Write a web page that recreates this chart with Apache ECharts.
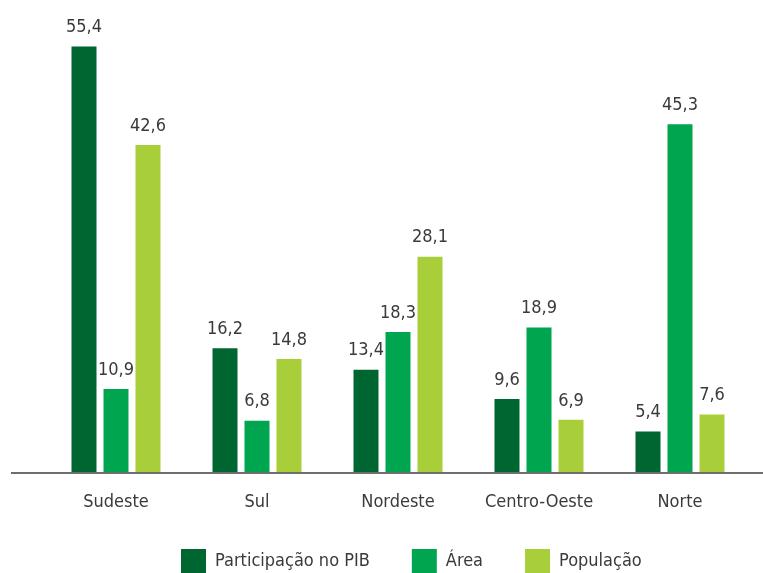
<!DOCTYPE html>
<html>
<head>
<meta charset="utf-8">
<script src="https://cdn.jsdelivr.net/npm/echarts@6/dist/echarts.min.js"></script>
<style>
  html, body { margin: 0; padding: 0; background: #ffffff; }
  #chart { width: 763px; height: 573px; }
</style>
</head>
<body>
<div id="chart"></div>
<script>
// Regional shares (%) by Brazilian macro-region
const regions = ['Sudeste', 'Sul', 'Nordeste', 'Centro-Oeste', 'Norte'];
const pibShare = [55.4, 16.2, 13.4, 9.6, 5.4];
const areaShare = [10.9, 6.8, 18.3, 18.9, 45.3];
const popShare = [42.6, 14.8, 28.1, 6.9, 7.6];
const seriesNames = ['Participação no PIB', 'Área', 'População'];
const seriesColors = ['#006631', '#00a54f', '#a8cf3a'];

const FONT = "'DejaVu Sans Condensed', 'Liberation Sans Narrow', sans-serif";
const FONT_SIZE = 18;
const TEXT_COLOR = '#3a3a3a';
const chart = echarts.init(document.getElementById('chart'), null, { renderer: 'canvas' });

const fmt = v => String(v).replace('.', ',');

function barSeries(name, data, color) {
  return {
    name: name,
    type: 'bar',
    data: data,
    barWidth: 25,
    barGap: '28%',
    itemStyle: { color: color },
    label: {
      show: true,
      position: 'top',
      distance: 10,
      color: TEXT_COLOR,
      fontFamily: FONT,
      fontSize: FONT_SIZE,
      formatter: p => fmt(p.value)
    }
  };
}

chart.setOption({
  animation: false,
  backgroundColor: '#ffffff',
  grid: { left: 45.5, right: 12.5, top: 11, bottom: 100, containLabel: false },
  xAxis: {
    type: 'category',
    data: regions,
    axisLine: { show: false },
    axisTick: { show: false },
    axisLabel: { interval: 0, color: TEXT_COLOR, fontFamily: FONT, fontSize: FONT_SIZE, margin: 20 }
  },
  yAxis: {
    type: 'value',
    min: 0,
    max: 60,
    show: false,
    splitLine: { show: false }
  },
  legend: {
    data: seriesNames,
    left: 181,
    top: 549,
    padding: 0,
    itemWidth: 25,
    itemHeight: 25,
    itemGap: 42,
    icon: 'rect',
    textStyle: { color: TEXT_COLOR, fontFamily: FONT, fontSize: FONT_SIZE, padding: [0, 0, 0, 4] }
  },
  // baseline rule running across the full plot width
  graphic: [{
    type: 'line',
    shape: { x1: 11, y1: 473, x2: 763, y2: 473 },
    style: { stroke: '#6e6e6e', lineWidth: 2 },
    z: 10
  }],
  series: [
    barSeries(seriesNames[0], pibShare, seriesColors[0]),
    barSeries(seriesNames[1], areaShare, seriesColors[1]),
    barSeries(seriesNames[2], popShare, seriesColors[2])
  ]
});
</script>
</body>
</html>
